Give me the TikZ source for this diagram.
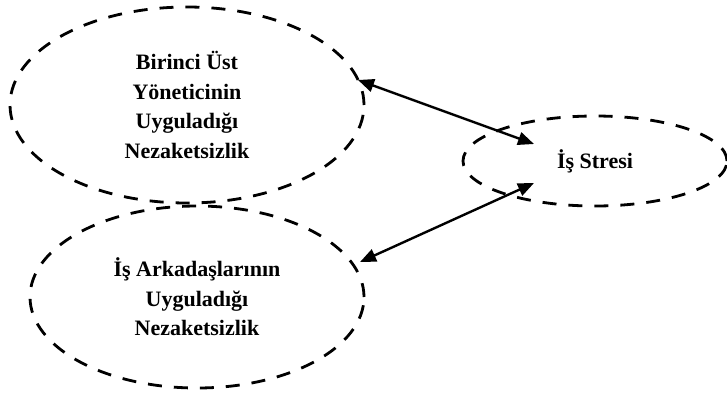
\documentclass[tikz,border=0pt]{standalone}
\usepackage{fontspec}
\setmainfont{Liberation Serif}
\usetikzlibrary{shapes.geometric,arrows.meta}
\begin{document}
\begin{tikzpicture}[x=1pt,y=-1pt,
  oval/.style={draw=black, line width=2.8pt, dash pattern=on 14pt off 12pt, ellipse, inner sep=0pt,
    align=center, font=\bfseries\fontsize{22}{29.5}\selectfont},
  link/.style={line width=2.4pt, {Triangle[length=16pt,width=13pt]}-{Triangle[length=16pt,width=13pt]}}]
\useasboundingbox (0,0) rectangle (727,394);
\node[oval, minimum width=354pt, minimum height=196pt] (boss) at (187,105)
  {Birinci Üst\\Yöneticinin\\Uyguladığı\\Nezaketsizlik};
\node[oval, minimum width=334pt, minimum height=182pt] (peer) at (197,297)
  {İş Arkadaşlarının\\Uyguladığı\\Nezaketsizlik};
\node[oval, minimum width=264pt, minimum height=90pt] (stress) at (595,161)
  {İş Stresi};
\coordinate (b1) at (358,80);
\coordinate (s1) at (534,144);
\coordinate (p1) at (360,262);
\coordinate (s2) at (534,183);
\draw[link] (b1) -- (s1);
\draw[link] (p1) -- (s2);
\end{tikzpicture}
\end{document}
